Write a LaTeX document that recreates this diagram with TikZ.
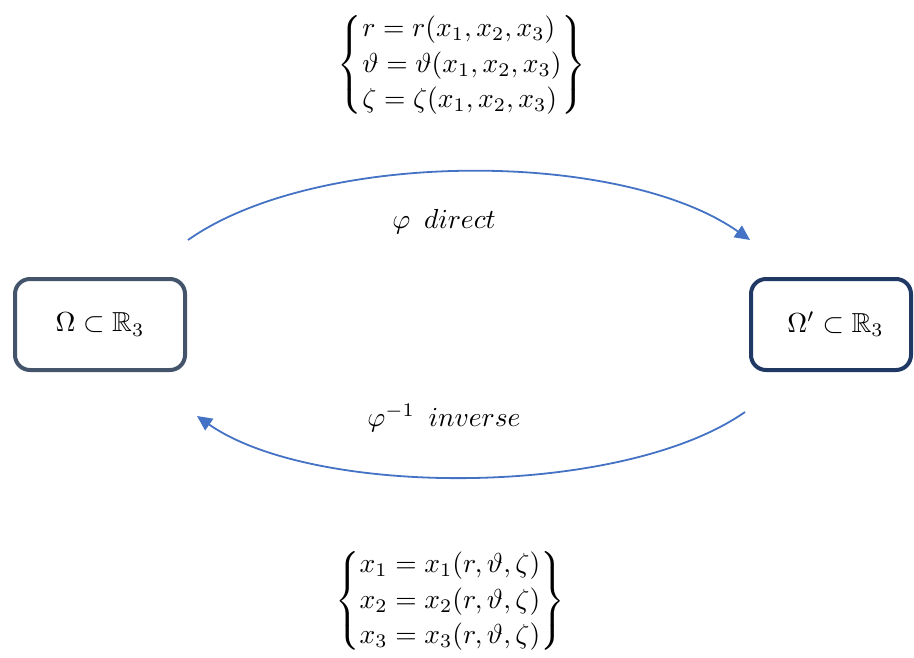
\documentclass[tikz,border=0pt]{standalone}
\usepackage{graphicx}
\usepackage{amsmath,amssymb}
\usetikzlibrary{arrows.meta}
\definecolor{arcblue}{HTML}{4472C4}
\definecolor{slateedge}{HTML}{44546A}
\definecolor{navyedge}{HTML}{1F3864}
% text and formulas are set at 10pt and enlarged
\newcommand{\magnify}[1]{\scalebox{2.75}{#1}}
\begin{document}
\begin{tikzpicture}[x=1pt,y=-1pt,
  domainbox/.style={draw, line width=4pt, rounded corners=15pt, inner sep=0pt},
  maplabel/.style={inner sep=0pt},
  system/.style={inner sep=0pt},
  maparc/.style={arcblue, line width=1.8pt, -{Triangle[length=15pt,width=14pt]}},
]
\useasboundingbox (0,0) rectangle (914,657);

% the two domains
\node[domainbox, slateedge, text=black, minimum width=170pt, minimum height=91pt]
  (omega) at (100,324.5) {\magnify{$\Omega\subset\mathbb{R}_3$}};
\node[domainbox, navyedge, text=black, minimum width=160pt, minimum height=91pt]
  (omegap) at (831,324.5) {\hspace{9pt}\magnify{$\Omega'\subset\mathbb{R}_3$}};

% change of coordinates, forward and backward
\node[system] (fwd) at (462,65) {\magnify{$\left\{\renewcommand{\arraystretch}{1.08}\begin{array}{@{}l@{}}
  r = r(x_1,x_2,x_3)\\
  \vartheta = \vartheta(x_1,x_2,x_3)\\
  \zeta = \zeta(x_1,x_2,x_3)
  \end{array}\right\}$}};
\node[system] (bwd) at (450,601) {\magnify{$\left\{\renewcommand{\arraystretch}{1.08}\begin{array}{@{}l@{}}
  x_1 = x_1(r,\vartheta,\zeta)\\
  x_2 = x_2(r,\vartheta,\zeta)\\
  x_3 = x_3(r,\vartheta,\zeta)
  \end{array}\right\}$}};

% arcs between the domains
\coordinate (ds) at (188,240);
\coordinate (de) at (750,240);
\coordinate (is) at (745,412);
\coordinate (ie) at (197,416);
\draw[maparc] (ds) .. controls (317,149) and (621,149) .. (de);
\draw[maparc] (is) .. controls (622,498) and (314,498) .. (ie);

\node[maplabel] (dlab) at (444,222) {\magnify{$\varphi\enspace direct$}};
\node[maplabel] (ilab) at (444,418) {\magnify{$\varphi^{-1}\enspace inverse$}};
\end{tikzpicture}
\end{document}
